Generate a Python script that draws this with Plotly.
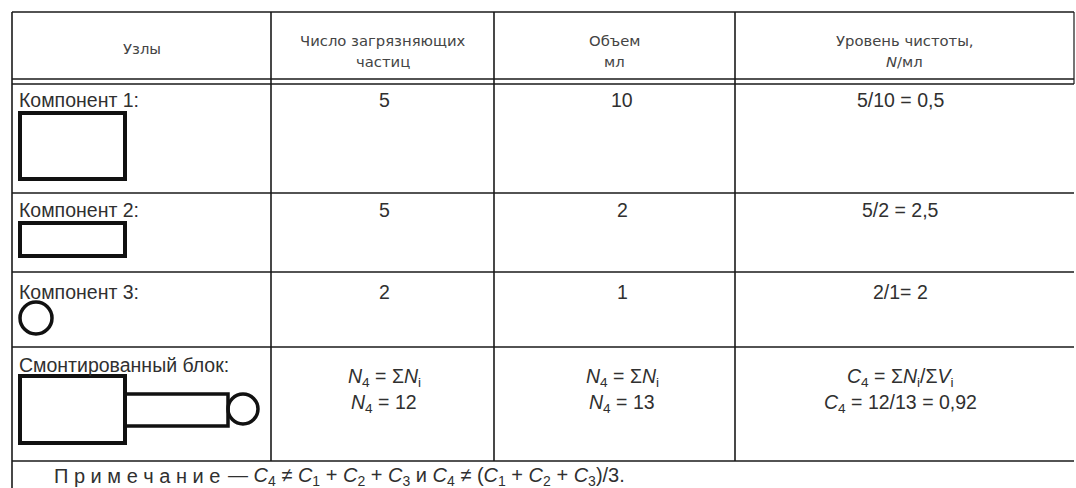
import plotly.graph_objects as go

# ---- data ----
headers = [["Узлы"], ["Число загрязняющих", "частиц"], ["Объем", "мл"], ["Уровень чистоты,", "<i>N</i>/мл"]]
row_labels = ["Компонент 1:", "Компонент 2:", "Компонент 3:", "Смонтированный блок:"]
particles = [["5"], ["5"], ["2"], ["<i>N</i><sub>4</sub> = Σ<i>N</i><sub>i</sub>", "<i>N</i><sub>4</sub> = 12"]]
volumes = [["10"], ["2"], ["1"], ["<i>N</i><sub>4</sub> = Σ<i>N</i><sub>i</sub>", "<i>N</i><sub>4</sub> = 13"]]
purity = [["5/10 = 0,5"], ["5/2 = 2,5"], ["2/1= 2"],
          ["<i>C</i><sub>4</sub> = Σ<i>N</i><sub>i</sub>/Σ<i>V</i><sub>i</sub>",
           "<i>C</i><sub>4</sub> = 12/13 = 0,92"]]
note_word = "П р и м е ч а н и е"
note_rest = ("— <i>C</i><sub>4</sub> ≠ <i>C</i><sub>1</sub> + <i>C</i><sub>2</sub> + "
             "<i>C</i><sub>3</sub> и <i>C</i><sub>4</sub> ≠ (<i>C</i><sub>1</sub> + <i>C</i><sub>2</sub> + <i>C</i><sub>3</sub>)/3.")

# ---- layout geometry (pixels) ----
W, H = 1076, 488
col_x = [12, 271, 494, 735, 1074]
row_y = [12, 79, 84, 193, 272, 347, 461]
text_x = [None, 384, 622, 900]
label_y = [100, 210, 292, 365]
val_y = [[100], [210], [292], [377, 403]]
header_y = {1: [48], 2: [40, 61]}

LINE = "#1a1a1a"
TXT = "#303030"
FONT = "Liberation Sans, Arial, sans-serif"
HFONT = "DejaVu Sans, sans-serif"
FS = 19.5

fig = go.Figure()
fig.add_trace(go.Scatter(x=[0, W], y=[0, H], mode="markers", marker=dict(opacity=0), hoverinfo="skip", showlegend=False))

shapes = []
def hline(y, x0, x1, w=1.6):
    shapes.append(dict(type="line", x0=x0, x1=x1, y0=y, y1=y, line=dict(color=LINE, width=w)))
def vline(x, y0, y1, w=1.6):
    shapes.append(dict(type="line", x0=x, x1=x, y0=y0, y1=y1, line=dict(color=LINE, width=w)))

for y in row_y:
    hline(y, col_x[0], col_x[-1])
vline(col_x[0], row_y[0], H)
for x in col_x[1:-1]:
    vline(x, row_y[0], row_y[-1])
vline(col_x[-1], row_y[0], row_y[2], 1.2)

def rect(x0, y0, x1, y1, w=4):
    shapes.append(dict(type="rect", x0=x0, x1=x1, y0=y0, y1=y1, line=dict(color="#111", width=w)))
def circ(cx, cy, r, w=3.5):
    shapes.append(dict(type="circle", x0=cx - r, x1=cx + r, y0=cy - r, y1=cy + r, line=dict(color="#111", width=w)))

rect(20, 113, 125, 179)
rect(20, 223, 125, 256)
circ(36, 318, 16)
rect(20, 376, 125, 443)
rect(125, 394, 228, 426, 3.5)
circ(243, 409, 15)

ann = []
hx = [(col_x[i] + col_x[i + 1]) / 2 for i in range(4)]
for i, lines in enumerate(headers):
    for ln, y in zip(lines, header_y[len(lines)]):
        ann.append(dict(x=hx[i], y=y, text=ln, showarrow=False, xanchor="center", yanchor="middle",
                        font=dict(size=14.8, color="#444", family=HFONT)))
for i, lab in enumerate(row_labels):
    ann.append(dict(x=17, y=label_y[i], text=lab, showarrow=False, xanchor="left", yanchor="middle",
                    font=dict(size=FS, color=TXT, family=FONT)))
for col, vals in ((1, particles), (2, volumes), (3, purity)):
    for i, lines in enumerate(vals):
        for ln, y in zip(lines, val_y[i]):
            ann.append(dict(x=text_x[col], y=y, text=ln, showarrow=False, xanchor="center", yanchor="middle",
                            font=dict(size=FS, color=TXT, family=FONT)))
ann.append(dict(x=52, y=476, text=note_word, showarrow=False, xanchor="left", yanchor="middle",
                font=dict(size=20, color=TXT, family=FONT)))
ann.append(dict(x=226, y=476, text=note_rest, showarrow=False, xanchor="left", yanchor="middle",
                font=dict(size=20, color=TXT, family=FONT)))

fig.update_layout(
    width=W, height=H, margin=dict(l=0, r=0, t=0, b=0),
    paper_bgcolor="white", plot_bgcolor="white",
    xaxis=dict(range=[0, W], visible=False, fixedrange=True),
    yaxis=dict(range=[H, 0], visible=False, fixedrange=True),
    shapes=shapes, annotations=ann, showlegend=False,
)
fig.write_html("out.html", config={"displayModeBar": False},
               post_script="document.body.style.margin='0';document.body.style.overflow='hidden';")
